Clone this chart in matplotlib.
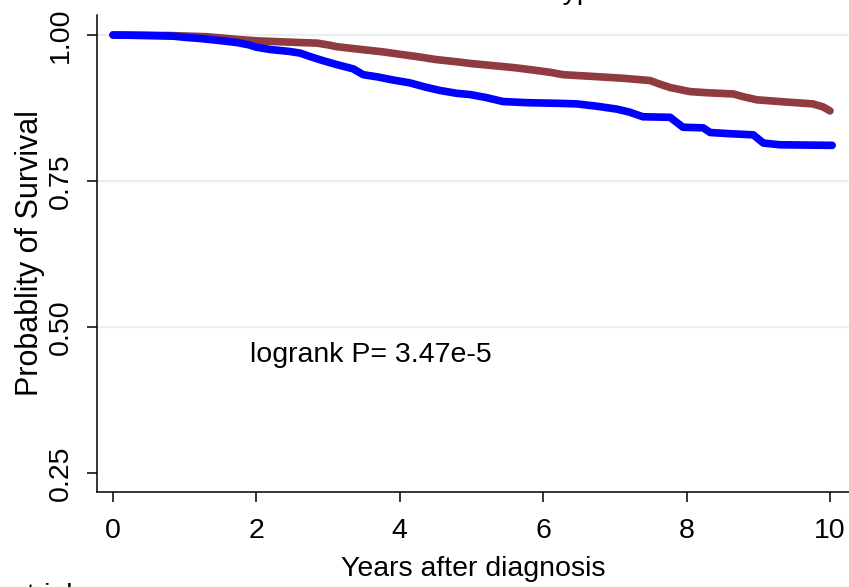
import matplotlib.pyplot as plt

# Kaplan-Meier curves (years, survival)
t_blue = [0, 0.5, 0.84, 1.0, 1.21, 1.45, 1.73, 1.9, 2.0, 2.2, 2.45, 2.61, 2.75,
          2.93, 3.1, 3.35, 3.49, 3.7, 3.9, 4.14, 4.35, 4.56, 4.8, 4.98, 5.2,
          5.44, 5.8, 6.2, 6.47, 6.75, 7.03, 7.2, 7.39, 7.77, 7.95, 8.23, 8.33,
          8.6, 8.93, 9.07, 9.30, 10.03]
s_blue = [1.0, 0.999, 0.998, 0.996, 0.994, 0.991, 0.987, 0.983, 0.979, 0.975,
          0.972, 0.969, 0.963, 0.956, 0.950, 0.942, 0.932, 0.928, 0.923, 0.918,
          0.911, 0.905, 0.900, 0.898, 0.893, 0.886, 0.884, 0.883, 0.882, 0.878,
          0.873, 0.868, 0.860, 0.859, 0.842, 0.841, 0.833, 0.831, 0.829, 0.815,
          0.812, 0.811]

t_red = [0, 0.8, 1.07, 1.3, 1.5, 1.67, 2.0, 2.4, 2.85, 3.0, 3.12, 3.4, 3.77,
         4.0, 4.24, 4.5, 4.80, 5.0, 5.26, 5.6, 5.86, 6.1, 6.28, 6.7, 7.1, 7.49,
         7.6, 7.77, 8.05, 8.3, 8.65, 8.8, 8.98, 9.3, 9.76, 9.9, 10.0]
s_red = [1.0, 0.999, 0.998, 0.997, 0.995, 0.993, 0.990, 0.988, 0.986, 0.983,
         0.980, 0.976, 0.971, 0.967, 0.963, 0.958, 0.954, 0.951, 0.948, 0.944,
         0.940, 0.936, 0.932, 0.929, 0.926, 0.922, 0.917, 0.910, 0.903, 0.901,
         0.899, 0.894, 0.889, 0.886, 0.882, 0.877, 0.870]

x_ticks = [0, 2, 4, 6, 8, 10]
y_ticks = [0.25, 0.50, 0.75, 1.00]
y_grid = [0.50, 0.75, 1.00]

font = ["Liberation Sans", "DejaVu Sans"]
fs = 20.5

fig = plt.figure(figsize=(8.49, 5.87), dpi=100)
ax = fig.add_axes([97 / 849, 95 / 587, 752 / 849, 477 / 587])

for g in y_grid:
    ax.axhline(g, color="#eaf0f2", lw=1.6, zorder=0)

ax.plot(t_red, s_red, color="#8f3b3f", lw=5.5,
        solid_capstyle="round", solid_joinstyle="round")
ax.plot(t_blue, s_blue, color="#0000ff", lw=5.5,
        solid_capstyle="round", solid_joinstyle="round")

ax.set_xlim(-0.223, 10.265)
ax.set_ylim(0.2175, 1.0342)
ax.set_xticks(x_ticks)
ax.set_yticks(y_ticks)
ax.set_xticklabels([str(v) for v in x_ticks], family=font, fontsize=fs)
ax.set_yticklabels(["%.2f" % v for v in y_ticks], family=font, fontsize=fs,
                   rotation=90, va="center")
ax.tick_params(axis="x", length=7.5, width=1.1, pad=11)
ax.tick_params(axis="y", length=7.5, width=1.1, pad=9)

for side in ["top", "right"]:
    ax.spines[side].set_visible(False)
for side in ["left", "bottom"]:
    ax.spines[side].set_linewidth(1.1)

ax.set_xlabel("Years after diagnosis", family=font, fontsize=fs, labelpad=9)
ax.set_ylabel("Probablity of Survival", family=font, fontsize=22, labelpad=2)

ax.text(1.91, 0.452, "logrank P= 3.47e-5", family=font, fontsize=fs,
        va="center", ha="left")

# cut-off title and footer text at the picture edges
fig.text(505 / 849, 1.0 + 1 / 587, "Subtype", family=font, fontsize=fs,
         ha="left", va="baseline")
fig.text(12 / 849, -16 / 587, "atrial", family=font, fontsize=fs,
         ha="left", va="baseline")

fig.savefig("out.png", dpi=100)
